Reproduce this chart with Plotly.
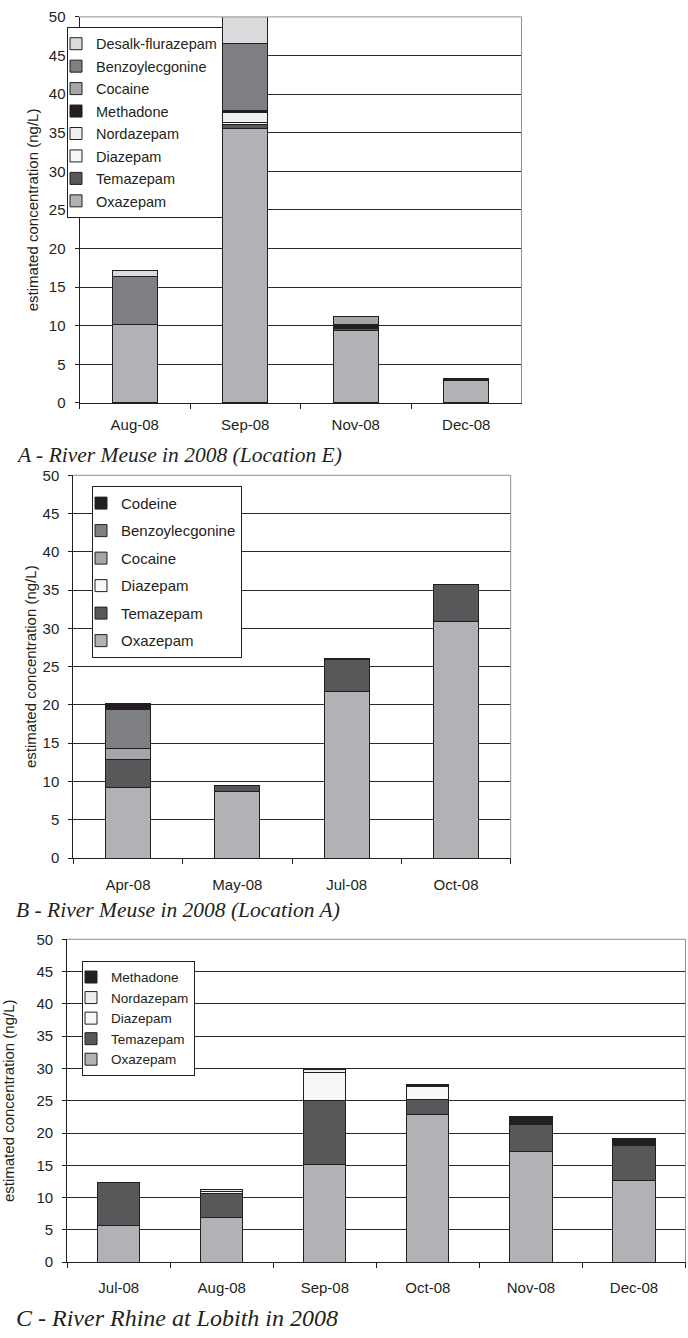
import plotly.graph_objects as go

# ---- A: River Meuse, location E ----
months_a = ["Aug-08", "Sep-08", "Nov-08", "Dec-08"]
a_oxazepam = [10.2, 35.6, 9.4, 2.9]
a_temazepam = [None, 0.4, 0.2, None]
a_diazepam = [None, 0.3, None, None]
a_nordazepam = [None, 1.3, None, None]
a_methadone = [None, 0.25, 0.6, 0.25]
a_cocaine = [None, None, 1.0, None]
a_benzoylecgonine = [6.2, 8.7, None, None]
a_desalk = [0.8, 5.0, None, None]

# ---- B: River Meuse, location A ----
months_b = ["Apr-08", "May-08", "Jul-08", "Oct-08"]
b_oxazepam = [9.2, 8.7, 21.75, 30.9]
b_temazepam = [3.65, 0.8, 4.15, 4.85]
b_diazepam = [None, None, 0.2, None]
b_cocaine = [1.4, None, None, None]
b_benzoylecgonine = [5.15, None, None, None]
b_codeine = [0.8, None, None, None]

# ---- C: River Rhine at Lobith ----
months_c = ["Jul-08", "Aug-08", "Sep-08", "Oct-08", "Nov-08", "Dec-08"]
c_oxazepam = [5.65, 6.9, 15.1, 22.9, 17.2, 12.6]
c_temazepam = [6.7, 3.8, 10.0, 2.3, 4.05, 5.5]
c_diazepam = [None, 0.3, 4.3, 2.05, 0.2, 0.1]
c_nordazepam = [None, 0.25, 0.45, None, 0.25, None]
c_methadone = [None, None, None, 0.3, 0.9, 0.9]

COLORS = {
    "Oxazepam": "#B1B2B5",
    "Temazepam": "#58585A",
    "Diazepam": "#F7F7F7",
    "Nordazepam": "#EEEFF0",
    "Methadone": "#231F20",
    "Cocaine": "#A5A6A9",
    "Benzoylecgonine": "#7E7F82",
    "Desalk-flurazepam": "#DADBDD",
    "Codeine": "#231F20",
}

W, H = 688, 1338
FONT = "Liberation Sans, Arial, sans-serif"
SERIF = "Liberation Serif, Times New Roman, serif"
INK = "#231F20"

fig = go.Figure()


def add_panel(series, months, axis_id, legend_id, prefix):
    # stacked from the bottom up; legend lists the top segment first
    n = len(series)
    for i, (name, vals) in enumerate(series):
        fig.add_trace(go.Bar(
            name=name, x=months, y=vals,
            xaxis="x" + axis_id, yaxis="y" + axis_id,
            legend=legend_id, legendgroup=prefix + name,
            legendrank=100 + n - i,
            marker=dict(color=COLORS[name], line=dict(color=INK, width=1)),
            hoverinfo="x+y+name",
        ))


panel_a = [("Oxazepam", a_oxazepam), ("Temazepam", a_temazepam),
           ("Diazepam", a_diazepam), ("Nordazepam", a_nordazepam),
           ("Methadone", a_methadone), ("Cocaine", a_cocaine),
           ("Benzoylecgonine", a_benzoylecgonine),
           ("Desalk-flurazepam", a_desalk)]
panel_b = [("Oxazepam", b_oxazepam), ("Temazepam", b_temazepam),
           ("Diazepam", b_diazepam), ("Cocaine", b_cocaine),
           ("Benzoylecgonine", b_benzoylecgonine), ("Codeine", b_codeine)]
panel_c = [("Oxazepam", c_oxazepam), ("Temazepam", c_temazepam),
           ("Diazepam", c_diazepam), ("Nordazepam", c_nordazepam),
           ("Methadone", c_methadone)]

add_panel(panel_a, months_a, "", "legend", "a_")
add_panel(panel_b, months_b, "2", "legend2", "b_")
add_panel(panel_c, months_c, "3", "legend3", "c_")


def px_x(v):
    return v / W


def px_y(v):
    return 1 - v / H


# plot areas in pixels: left, right, top, bottom, y-title standoff, x-label standoff
areas = {
    "": (79.5, 521.5, 8, 399, 6, 8),
    "2": (73.3, 510.7, 472.3, 860, 2, 13),
    "3": (67.2, 685.5, 942.3, 1269.3, 18, 12),
}

layout = dict(
    width=W, height=H,
    margin=dict(l=0, r=0, t=0, b=0),
    paper_bgcolor="white", plot_bgcolor="white",
    barmode="stack", bargap=0.59,
    font=dict(family=FONT, color=INK, size=15),
    showlegend=True,
)

for aid, (l, r, t, b, tstand, xstand) in areas.items():
    layout["xaxis" + aid] = dict(
        domain=[px_x(l), px_x(r)], anchor="y" + aid,
        type="category", showline=True, linecolor=INK, linewidth=1,
        ticks="outside", tickson="boundaries", ticklen=5, tickcolor=INK,
        showgrid=False, tickfont=dict(size=15, family=FONT, color=INK),
        ticklabelstandoff=xstand, fixedrange=True,
    )
    layout["yaxis" + aid] = dict(
        domain=[px_y(b), px_y(t)], anchor="x" + aid,
        range=[0, 50], dtick=5, tick0=0,
        showline=True, linecolor=INK, linewidth=1,
        ticks="outside", ticklen=4, tickcolor=INK,
        showgrid=True, gridcolor="#2a2a2a", gridwidth=1,
        zeroline=False, tickfont=dict(size=15, family=FONT, color=INK),
        ticklabelstandoff=6,
        title=dict(text="estimated concentration (ng/L)",
                   font=dict(size=15, family=FONT, color=INK),
                   standoff=tstand),
        fixedrange=True,
    )

legend_common = dict(
    bgcolor="white", bordercolor=INK, borderwidth=1,
    xanchor="left", yanchor="top", traceorder="grouped",
    indentation=-12,
)
layout["legend"] = dict(legend_common, x=px_x(67), y=px_y(18),
                        font=dict(family=FONT, color=INK, size=14.5),
                        tracegroupgap=0.6)
layout["legend2"] = dict(legend_common, x=px_x(92), y=px_y(483),
                         font=dict(family=FONT, color=INK, size=15),
                         tracegroupgap=5)
layout["legend3"] = dict(legend_common, x=px_x(82), y=px_y(964),
                         font=dict(family=FONT, color=INK, size=13.5),
                         tracegroupgap=0)

fig.update_layout(**layout)

# grey frame on the top and right of each plot area
for aid in areas:
    xr = "x" + aid
    yr = "y" + aid
    fig.add_shape(type="line", xref=xr + " domain", yref=yr + " domain",
                  x0=0, x1=1, y0=1, y1=1, line=dict(color="#8E8E90", width=1),
                  layer="above")
    fig.add_shape(type="line", xref=xr + " domain", yref=yr + " domain",
                  x0=1, x1=1, y0=0, y1=1, line=dict(color="#8E8E90", width=1),
                  layer="above")

captions = [
    ("A - River Meuse in 2008 (Location E)", 451.5, 21.5),
    ("B - River Meuse in 2008 (Location A)", 912.7, 21.5),
    ("C - River Rhine at Lobith in 2008", 1325.5, 24),
]
for text, yc, size in captions:
    fig.add_annotation(
        text=text, xref="paper", yref="paper", x=px_x(14), y=px_y(yc),
        xanchor="left", yanchor="middle", showarrow=False,
        font=dict(family=SERIF, size=size, color=INK, style="italic"),
    )

fig.write_html("out.html")
